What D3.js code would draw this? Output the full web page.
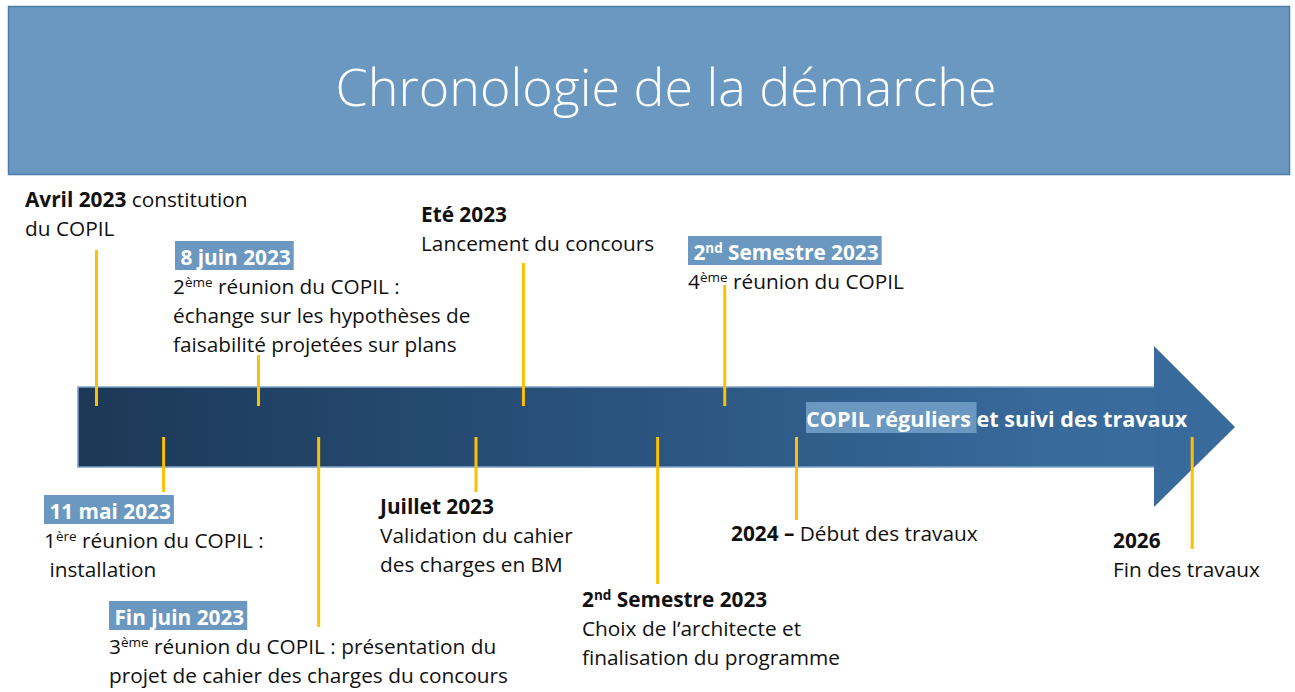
<!DOCTYPE html>
<html>
<head>
<meta charset="utf-8">
<title>Chronologie de la démarche</title>
<script src="https://d3js.org/d3.v7.min.js"></script>
<style>
  body { margin: 0; background: #fff; }
  svg { display: block; }
  .lbl { font-family: "Open Sans", sans-serif; font-size: 20.8px; fill: #111; }
  .title { font-family: "Open Sans", sans-serif; font-weight: 300; font-size: 52px; fill: #fff; }
  .inarrow { font-size: 21.6px; }
</style>
</head>
<body>
<div id="chart"></div>
<script>
// ---- data ----
var titleText = "Chronologie de la démarche";
var arrowText = "COPIL réguliers et suivi des travaux";
var arrowHighlight = "COPIL réguliers ";

// milestones, in order along the arrow (0 = arrow start, 100 = arrow tip)
var milestoneNames = ["Avril 2023", "11 mai 2023", "8 juin 2023", "Fin juin 2023", "Juillet 2023",
                      "Eté 2023", "2nd Semestre 2023", "2nd Semestre 2023 (COPIL)", "2024", "2026"];
var milestonePos = [1.6, 7.4, 15.6, 20.8, 34.4, 38.5, 50.1, 55.9, 62.1, 96.3];
var milestoneSide = ["top", "bottom", "top", "bottom", "bottom", "top", "bottom", "top", "bottom", "bottom"];
var milestoneBoxed = [false, true, true, true, false, false, false, true, false, false];

// text of each milestone: **bold**, ^superscript^
var milestoneHead = [
  "**Avril 2023** constitution",
  " 11 mai 2023",
  " 8 juin 2023",
  " Fin juin 2023",
  "**Juillet 2023**",
  "**Eté 2023**",
  "**2^nd^ Semestre 2023**",
  " 2^nd^ Semestre 2023",
  "**2024 –** Début des travaux",
  "**2026**"
];
var milestoneBody = [
  ["du COPIL"],
  ["1^ère^ réunion du COPIL :", " installation"],
  ["2^ème^ réunion du COPIL :", "échange sur les hypothèses de", "faisabilité projetées sur plans"],
  ["3^ème^ réunion du COPIL : présentation du", "projet de cahier des charges du concours"],
  ["Validation du cahier", "des charges en BM"],
  ["Lancement du concours"],
  ["Choix de l’architecte et", "finalisation du programme"],
  ["4^ème^ réunion du COPIL"],
  [],
  ["Fin des travaux"]
];

// ---- layout ----
var W = 1295, H = 692;
var arrow = {x0: 78, x1: 1155, tip: 1235, top: 387, bottom: 467, headTop: 346, headBottom: 507};
// label anchor (x, first baseline) and far end of the connector line for each milestone
var labelX = [25, 44, 175, 109, 380, 421, 582, 688, 731, 1113];
var labelY = [207, 519, 265, 625, 514, 222, 607, 260, 541, 548];
var lineEnd = [250, 492, 355, 627, 492, 263, 584, 285, 520, 549];
var lineH = 29;

var svg = d3.select("#chart").append("svg")
  .attr("width", W).attr("height", H);

var x = d3.scaleLinear().domain([0, 100]).range([arrow.x0, arrow.tip]);

// header band
svg.append("rect")
  .attr("x", 8.5).attr("y", 6.5).attr("width", 1281).attr("height", 168)
  .attr("fill", "#6b98c0").attr("stroke", "#4d7dac").attr("stroke-width", 1.5);
svg.append("text").attr("class", "title")
  .attr("x", 666).attr("y", 106).attr("text-anchor", "middle")
  .text(titleText);

// arrow
var grad = svg.append("defs").append("linearGradient")
  .attr("id", "arrowGrad").attr("gradientUnits", "userSpaceOnUse")
  .attr("x1", arrow.x0).attr("x2", arrow.tip).attr("y1", 0).attr("y2", 0);
grad.append("stop").attr("offset", 0).attr("stop-color", "#1c3856");
grad.append("stop").attr("offset", 0.45).attr("stop-color", "#29527c");
grad.append("stop").attr("offset", 0.85).attr("stop-color", "#386a9b");
grad.append("stop").attr("offset", 1).attr("stop-color", "#3a6d9e");

svg.append("rect")
  .attr("x", arrow.x0).attr("y", arrow.top)
  .attr("width", arrow.x1 - arrow.x0).attr("height", arrow.bottom - arrow.top)
  .attr("fill", "url(#arrowGrad)").attr("stroke", "#7fa3c8").attr("stroke-width", 1.5);
svg.append("path")
  .attr("d", "M" + (arrow.x1 - 1) + "," + arrow.headTop + " L" + arrow.tip + "," + ((arrow.top + arrow.bottom) / 2) +
        " L" + (arrow.x1 - 1) + "," + arrow.headBottom + " Z")
  .attr("fill", "#386b9c");

// rich text helper
function parseRich(s) {
  var out = [], bold = false, sup = false, buf = "";
  for (var i = 0; i < s.length; i++) {
    if (s[i] === "*" && s[i + 1] === "*") {
      if (buf) out.push({t: buf, b: bold, s: sup});
      buf = ""; bold = !bold; i++;
    } else if (s[i] === "^") {
      if (buf) out.push({t: buf, b: bold, s: sup});
      buf = ""; sup = !sup;
    } else buf += s[i];
  }
  if (buf) out.push({t: buf, b: bold, s: sup});
  return out;
}

function richLine(g, str, px, py, opts) {
  var t = g.append("text").attr("class", "lbl").attr("x", px).attr("y", py)
    .attr("xml:space", "preserve").style("white-space", "pre");
  if (opts && opts.bold) t.attr("font-weight", "bold");
  if (opts && opts.fill) t.style("fill", opts.fill);
  if (opts && opts.cls) t.classed(opts.cls, true);
  var wasSup = false;
  parseRich(str).forEach(function(seg) {
    var sp = t.append("tspan").text(seg.t);
    if (seg.b) sp.attr("font-weight", "bold");
    if (seg.s) { sp.attr("font-size", "13.5px").attr("dy", -7); wasSup = true; }
    else if (wasSup) { sp.attr("dy", 7); wasSup = false; }
  });
  return t;
}

// connectors
svg.append("g").selectAll("line")
  .data(milestonePos)
  .join("line")
    .attr("x1", function(d) { return x(d); })
    .attr("x2", function(d) { return x(d); })
    .attr("y1", function(d, i) { return lineEnd[i]; })
    .attr("y2", function(d, i) { return milestoneSide[i] === "top" ? 406 : 437; })
    .attr("stroke", "#ffc000").attr("stroke-width", 3);

// labels
var labels = svg.append("g");
milestoneNames.forEach(function(name, i) {
  var g = labels.append("g").attr("class", "milestone");
  var head;
  if (milestoneBoxed[i]) {
    var box = g.append("rect").attr("fill", "#6b98c0");
    head = richLine(g, milestoneHead[i], labelX[i], labelY[i], {bold: true, fill: "#fff"});
    var w = head.node().getComputedTextLength();
    box.attr("x", labelX[i]).attr("y", labelY[i] - 24)
      .attr("width", w + 3).attr("height", 29);
  } else {
    head = richLine(g, milestoneHead[i], labelX[i], labelY[i]);
  }
  milestoneBody[i].forEach(function(line, k) {
    richLine(g, line, labelX[i] - (milestoneBoxed[i] && i === 2 ? 2 : 0), labelY[i] + (k + 1) * lineH);
  });
});

// text inside the arrow
var at = svg.append("g");
var hl = at.append("rect").attr("fill", "#6b98c0");
richLine(at, arrowText, 806, 427, {bold: true, fill: "#fff", cls: "inarrow"});
var tmp = at.append("text").attr("class", "lbl inarrow").attr("font-weight", "bold")
  .attr("xml:space", "preserve").style("white-space", "pre").text(arrowHighlight);
var hw = tmp.node().getComputedTextLength();
tmp.remove();
hl.attr("x", 806).attr("y", 402).attr("width", hw).attr("height", 31);
</script>
</body>
</html>
